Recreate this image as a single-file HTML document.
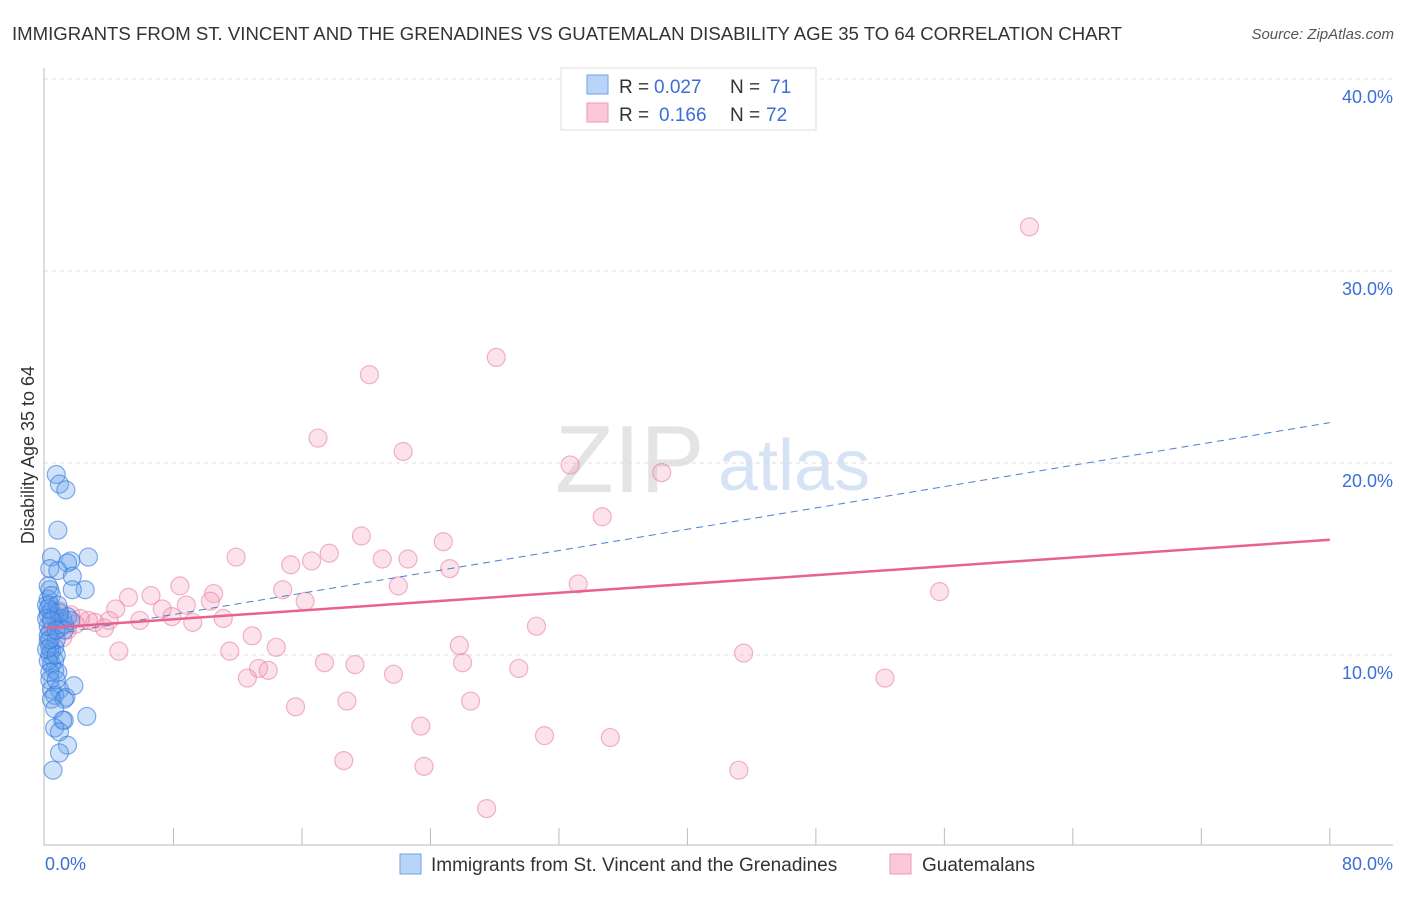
<!DOCTYPE html>
<html><head><meta charset="utf-8"><style>
body{margin:0;background:#fff;font-family:"Liberation Sans",sans-serif}
svg text{font-family:"Liberation Sans",sans-serif}
</style></head><body>
<svg width="1406" height="892">
<text x="12" y="40" font-size="18.6" fill="#333">IMMIGRANTS FROM ST. VINCENT AND THE GRENADINES VS GUATEMALAN DISABILITY AGE 35 TO 64 CORRELATION CHART</text>
<text x="1394" y="39" font-size="15" fill="#555" text-anchor="end" font-style="italic">Source: ZipAtlas.com</text>
<text x="555" y="492" font-size="96" fill="#e4e4e4" font-family="Liberation Serif">ZIP</text>
<text x="718" y="490" font-size="72" fill="#d5e3f5">atlas</text>
<g id="grid"></g>
<line x1="44" y1="68" x2="44" y2="845" stroke="#bbb"/>
<line x1="44" y1="845" x2="1393" y2="845" stroke="#bbb"/>
<g id="ticks"></g>
<text x="34" y="455" font-size="18" fill="#333" text-anchor="middle" transform="rotate(-90 34 455)">Disability Age 35 to 64</text>
<text x="45" y="870" font-size="18" fill="#3b6fd6">0.0%</text>
<text x="1393" y="870" font-size="18" fill="#3b6fd6" text-anchor="end">80.0%</text>
<g id="pts"></g>
<g id="trend"></g>
<g>
<rect x="561" y="68" width="255" height="62" fill="#fff" stroke="#ddd"/>
<rect x="587" y="75" width="21" height="19" fill="#b8d4f7" stroke="#6fa1e8"/>
<rect x="587" y="103" width="21" height="19" fill="#fbc8d7" stroke="#ef9ab5"/>
<text y="93" font-size="19" fill="#333"><tspan x="619">R =</tspan><tspan x="654" fill="#3b6fd6">0.027</tspan><tspan x="730">N =</tspan><tspan x="770" fill="#3b6fd6">71</tspan></text>
<text y="121" font-size="19" fill="#333"><tspan x="619">R =</tspan><tspan x="659" fill="#3b6fd6">0.166</tspan><tspan x="730">N =</tspan><tspan x="766" fill="#3b6fd6">72</tspan></text>
</g>
<g>
<rect x="400" y="854" width="21" height="20" fill="#b8d4f7" stroke="#6fa1e8"/>
<text x="431" y="871" font-size="19" fill="#333">Immigrants from St. Vincent and the Grenadines</text>
<rect x="890" y="854" width="21" height="20" fill="#fbc8d7" stroke="#ef9ab5"/>
<text x="922" y="871" font-size="19" fill="#333">Guatemalans</text>
</g>
</svg>
<script>
const yTicks=[10,20,30,40];
const xTicks=[8,16,24,32,40,48,56,64,72,80];
const blueX=[0.7,0.9,1.3,0.8,2.7,1.6,1.4,0.4,0.3,0.8,1.7,2.5,1.7,0.3,0.2,0.3,0.4,0.6,0.9,1.2,0.3,0.2,0.6,0.4,0.3,0.6,0.4,0.6,0.8,0.3,1.8,0.4,0.9,0.6,1.3,1.2,2.6,1.2,1.1,0.6,0.9,1.4,0.9,0.5,0.2,0.2,0.2,0.3,0.9,1.1,1.4,1.6,0.2,0.3,0.4,0.7,0.1,0.1,0.1,0.2,0.4,0.8,0.9,1.2,0.7,0.7,0.6,0.3,0.2,0.4,0.7];
const blueY=[19.4,18.9,18.6,16.5,15.1,14.9,14.8,15.1,14.5,14.4,14.1,13.4,13.4,13.4,12.9,12.6,12.3,12.0,11.9,11.6,11.2,10.7,10.4,10.2,10.0,9.7,9.5,9.2,9.1,8.7,8.4,8.2,8.2,7.9,7.8,7.7,6.8,6.6,6.6,6.2,6.0,5.3,4.9,4.0,12.1,11.5,11.0,10.4,11.4,11.9,12.0,11.8,9.7,9.1,7.7,10.8,12.6,11.9,10.3,13.6,13.1,12.6,12.2,11.3,10.0,8.7,7.2,10.8,12.4,11.8,11.3];
const pinkX=[61.3,28.1,20.2,17.0,22.3,32.7,38.4,34.7,19.7,24.8,11.9,17.7,21.0,22.6,15.3,16.6,25.2,8.4,33.2,22.0,14.8,55.7,5.2,6.6,10.5,16.2,4.4,7.3,8.8,10.3,5.9,7.9,9.2,11.1,4.0,3.1,3.7,2.7,2.2,1.6,0.9,30.6,12.9,25.8,14.4,11.5,4.6,43.5,17.4,19.3,26.0,29.5,13.3,13.9,12.6,21.7,52.3,18.8,26.5,15.6,23.4,31.1,35.2,18.6,23.6,43.2,27.5,1.4,1.9,0.8,0.4,1.1];
const pinkY=[32.3,25.5,24.6,21.3,20.6,19.9,19.5,17.2,16.2,15.9,15.1,15.3,15.0,15.0,14.7,14.9,14.5,13.6,13.7,13.6,13.4,13.3,13.0,13.1,13.2,12.8,12.4,12.4,12.6,12.8,11.8,12.0,11.7,11.9,11.8,11.7,11.4,11.8,11.9,12.1,12.3,11.5,11.0,10.5,10.4,10.2,10.2,10.1,9.6,9.5,9.6,9.3,9.3,9.2,8.8,9.0,8.8,7.6,7.6,7.3,6.3,5.8,5.7,4.5,4.2,4.0,2.0,11.3,11.6,11.8,12.0,10.9];
const pinkTrend=[11.4,16.0];
const blueTrend=[11.0,22.1];
const X=v=>45+v*16.06, Y=v=>847-v*19.2;
const NS='http://www.w3.org/2000/svg';
function mk(t,a,p){const e=document.createElementNS(NS,t);for(const k in a)e.setAttribute(k,a[k]);document.getElementById(p).appendChild(e);return e;}
yTicks.forEach(v=>{
 const l=mk('line',{x1:44,x2:1393,y1:Y(v),y2:Y(v),stroke:'#ddd','stroke-dasharray':'4,4'},'grid');
 
 
 const t=mk('text',{x:1393,y:Y(v)+24,'font-size':18,fill:'#3b6fd6','text-anchor':'end'},'grid');
 t.textContent=v.toFixed(1)+'%';
 
 
});
xTicks.forEach(v=>{
 const l=mk('line',{x1:X(v),x2:X(v),y1:828,y2:845,stroke:'#bbb'},'ticks');
 
 
});
pinkX.forEach((x,i)=>{
 const c=mk('circle',{cx:X(x),cy:Y(pinkY[i]),r:9,fill:'rgba(246,160,188,0.3)',stroke:'rgba(232,120,155,0.55)','stroke-width':1.2},'pts');
 
 
});
blueX.forEach((x,i)=>{
 const c=mk('circle',{cx:X(x),cy:Y(blueY[i]),r:9,fill:'rgba(100,160,235,0.3)',stroke:'rgba(50,120,220,0.6)','stroke-width':1.2},'pts');
 
 
});
const bl=mk('line',{x1:X(0),y1:Y(blueTrend[0]),x2:X(80),y2:Y(blueTrend[1]),stroke:'#4a7fd0','stroke-width':1,'stroke-dasharray':'7,5'},'trend');


const pl=mk('line',{x1:X(0),y1:Y(pinkTrend[0]),x2:X(80),y2:Y(pinkTrend[1]),stroke:'#e8628e','stroke-width':2.5},'trend');


</script>
</body></html>
